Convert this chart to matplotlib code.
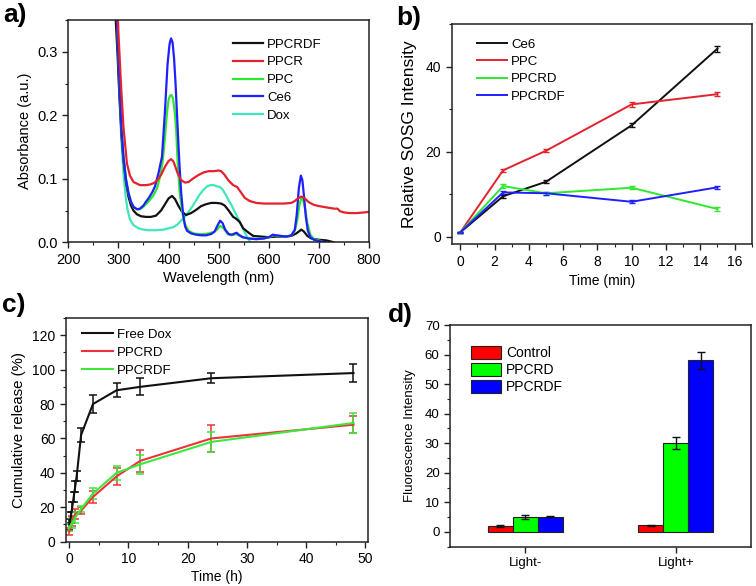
import matplotlib
matplotlib.use("Agg")
import matplotlib.pyplot as plt
from matplotlib.ticker import MultipleLocator
import numpy as np

plt.rcParams['font.family'] = ['Liberation Sans', 'DejaVu Sans']

# ---------------- Panel a: UV-vis spectra ----------------
a_labels = ["PPCRDF", "PPCR", "PPC", "Ce6", "Dox"]
a_colors = ["#111111", "#e3222e", "#2ee82e", "#1f1fff", "#3ee8bc"]

wl_ppcrdf = [290, 294, 298, 302, 306, 310, 315, 320, 325, 330, 337, 345, 355, 365, 375, 385, 393, 400, 407, 413,
             420, 427, 435, 445, 455, 465, 475, 485, 495, 505, 512, 520, 529, 535, 542, 549, 560, 569, 585, 600,
             615, 630, 645, 655, 660, 665, 670, 677, 685, 700, 715, 730]
ab_ppcrdf = [0.45, 0.36, 0.30, 0.23, 0.17, 0.13, 0.095, 0.072, 0.058, 0.050, 0.044, 0.041, 0.040, 0.040, 0.042, 0.050,
             0.060, 0.069, 0.073, 0.068, 0.057, 0.048, 0.043, 0.046, 0.051, 0.057, 0.060, 0.062, 0.062, 0.061, 0.058,
             0.050, 0.040, 0.037, 0.032, 0.022, 0.015, 0.010, 0.009, 0.008, 0.009, 0.009, 0.010, 0.014, 0.017, 0.020,
             0.017, 0.010, 0.006, 0.004, 0.003, 0.000]

wl_ppcr = [292, 296, 300, 305, 310, 317, 323, 330, 343, 355, 363, 370, 377, 385, 393, 400, 405, 410, 418, 425, 433,
           440, 450, 460, 470, 480, 490, 500, 505, 512, 520, 529, 537, 545, 552, 562, 575, 590, 610, 630, 645, 652,
           658, 665, 672, 680, 690, 700, 715, 730, 737, 742, 750, 762, 775, 790, 800]
ab_ppcr = [0.50, 0.42, 0.33, 0.25, 0.182, 0.124, 0.105, 0.095, 0.090, 0.090, 0.091, 0.093, 0.097, 0.106, 0.119, 0.128,
           0.131, 0.127, 0.109, 0.098, 0.094, 0.095, 0.101, 0.106, 0.110, 0.112, 0.112, 0.113, 0.112, 0.106, 0.097,
           0.090, 0.087, 0.078, 0.070, 0.065, 0.062, 0.061, 0.061, 0.061, 0.062, 0.065, 0.069, 0.072, 0.069, 0.063,
           0.059, 0.057, 0.055, 0.053, 0.053, 0.049, 0.047, 0.046, 0.046, 0.047, 0.048]

wl_ppc = [290, 294, 298, 302, 306, 310, 315, 320, 325, 330, 337, 343, 350, 360, 370, 377, 383, 388, 393, 397, 400, 403,
          406, 409, 412, 415, 418, 422, 425, 430, 435, 440, 450, 460, 470, 480, 490, 497, 503, 510, 518, 525, 530,
          535, 540, 548, 560, 575, 590, 600, 610, 620, 635, 645, 652, 657, 661, 665, 668, 672, 677, 683, 690, 700, 710]
ab_ppc = [0.50, 0.42, 0.33, 0.25, 0.18, 0.135, 0.10, 0.078, 0.064, 0.056, 0.052, 0.052, 0.056, 0.064, 0.074, 0.085,
          0.103, 0.125, 0.166, 0.205, 0.224, 0.231, 0.232, 0.226, 0.208, 0.180, 0.130, 0.080, 0.061, 0.035, 0.025,
          0.018, 0.014, 0.013, 0.013, 0.014, 0.016, 0.020, 0.026, 0.022, 0.013, 0.011, 0.012, 0.013, 0.011, 0.008,
          0.006, 0.005, 0.006, 0.008, 0.011, 0.010, 0.009, 0.011, 0.018, 0.035, 0.058, 0.070, 0.068, 0.055, 0.030,
          0.012, 0.005, 0.003, 0.0]

wl_ce6 = [290, 294, 298, 302, 306, 310, 315, 320, 325, 330, 337, 343, 350, 355, 360, 367, 373, 380, 387, 393, 398, 402,
          405, 408, 411, 414, 417, 420, 422, 425, 429, 433, 437, 445, 455, 465, 475, 485, 492, 498, 503, 508, 513,
          520, 527, 532, 536, 540, 548, 560, 575, 590, 600, 608, 615, 625, 635, 645, 652, 656, 660, 664, 667, 670,
          674, 678, 683, 690, 700, 715]
ab_ce6 = [0.50, 0.42, 0.33, 0.25, 0.18, 0.135, 0.10, 0.078, 0.064, 0.056, 0.052, 0.053, 0.058, 0.064, 0.069, 0.078,
          0.088, 0.109, 0.135, 0.208, 0.280, 0.312, 0.321, 0.315, 0.290, 0.250, 0.200, 0.150, 0.120, 0.080, 0.045,
          0.025, 0.018, 0.014, 0.012, 0.011, 0.011, 0.013, 0.017, 0.027, 0.034, 0.030, 0.020, 0.013, 0.012, 0.014,
          0.015, 0.012, 0.008, 0.006, 0.005, 0.006, 0.008, 0.012, 0.011, 0.010, 0.009, 0.011, 0.020, 0.045, 0.085,
          0.105, 0.098, 0.075, 0.040, 0.018, 0.008, 0.004, 0.002, 0.0]

wl_dox = [290, 294, 298, 302, 306, 310, 314, 318, 323, 330, 340, 350, 360, 375, 390, 400, 410, 418, 425, 432, 440, 448,
          455, 462, 470, 477, 483, 490, 497, 503, 508, 514, 520, 526, 532, 540, 547, 553, 558, 563]
ab_dox = [0.50, 0.42, 0.32, 0.23, 0.16, 0.11, 0.075, 0.052, 0.036, 0.027, 0.022, 0.020, 0.019, 0.019, 0.020, 0.022,
          0.024, 0.028, 0.034, 0.040, 0.048, 0.057, 0.066, 0.075, 0.083, 0.088, 0.090, 0.090, 0.088, 0.087, 0.083,
          0.075, 0.066, 0.058, 0.048, 0.036, 0.024, 0.014, 0.007, 0.0]

# ---------------- Panel b: SOSG ----------------
b_labels = ["Ce6", "PPC", "PPCRD", "PPCRDF"]
b_colors = ["#111111", "#e3222e", "#2ee82e", "#1f1fff"]
b_time = [0, 2.5, 5, 10, 15]
b_ce6 = [1.0, 9.5, 12.9, 26.2, 44.2]
b_ppc = [1.0, 15.6, 20.2, 31.1, 33.5]
b_ppcrd = [1.0, 11.9, 10.2, 11.5, 6.5]
b_ppcrdf = [1.0, 10.4, 10.2, 8.2, 11.6]
b_err_ce6 = [0.2, 0.4, 0.4, 0.5, 0.7]
b_err_ppc = [0.2, 0.4, 0.4, 0.6, 0.5]
b_err_ppcrd = [0.2, 0.4, 0.3, 0.4, 0.4]
b_err_ppcrdf = [0.2, 0.3, 0.3, 0.3, 0.4]

# ---------------- Panel c: release ----------------
c_labels = ["Free Dox", "PPCRD", "PPCRDF"]
c_colors = ["#111111", "#f0303a", "#3ce83c"]
c_t_free = [0, 0.25, 0.5, 0.75, 1, 1.25, 2, 4, 8, 12, 24, 48]
c_free = [10, 14, 20, 26, 32, 38, 62, 80, 88, 90, 95, 98]
c_free_err = [3, 3, 3, 3, 3, 3, 4, 5, 4, 5, 3, 5]
c_t = [0, 0.5, 1, 2, 4, 8, 12, 24, 48]
c_ppcrd = [6, 12, 16, 18, 26, 38, 47, 60, 68]
c_ppcrd_err = [2, 3, 3, 2, 3.5, 5, 6.5, 8, 5]
c_ppcrdf = [8, 11, 14, 19, 28, 40, 45, 58, 69]
c_ppcrdf_err = [2, 3, 3, 2, 3, 4, 5.5, 6, 6]

# ---------------- Panel d: fluorescence ----------------
d_groups = ["Light-", "Light+"]
d_labels = ["Control", "PPCRD", "PPCRDF"]
d_colors = ["#ff0000", "#00ff00", "#0000ff"]
d_control = [2.0, 2.2]
d_ppcrd = [5.0, 30.0]
d_ppcrdf = [5.2, 58.0]
d_control_err = [0.2, 0.2]
d_ppcrd_err = [0.6, 2.0]
d_ppcrdf_err = [0.3, 3.0]

W, H = 756, 586
fig = plt.figure(figsize=(W / 100, H / 100), dpi=100)


def add_ax(l, t, r, b):
    return fig.add_axes([l / W, 1 - b / H, (r - l) / W, (b - t) / H])


def style(ax, fs=10):
    for s in ax.spines.values():
        s.set_linewidth(1.1)
        s.set_color("#222222")
    ax.tick_params(which="both", direction="out", labelsize=fs, colors="#222222", labelcolor="black")
    ax.tick_params(which="major", length=4, width=1.0)
    ax.tick_params(which="minor", length=2.5, width=0.8)


# Panel a
axa = add_ax(68.3, 20, 369, 242.3)
series_a = [(wl_ppcrdf, ab_ppcrdf), (wl_ppcr, ab_ppcr), (wl_ppc, ab_ppc), (wl_ce6, ab_ce6), (wl_dox, ab_dox)]
order = [4, 0, 2, 3, 1]
lines = {}
for i in order:
    x, y = series_a[i]
    lines[i], = axa.plot(x, y, color=a_colors[i], lw=1.6, label=a_labels[i])
axa.set_xlim(200, 800)
axa.set_ylim(0, 0.35)
axa.xaxis.set_major_locator(MultipleLocator(100))
axa.xaxis.set_minor_locator(MultipleLocator(50))
axa.yaxis.set_major_locator(MultipleLocator(0.1))
axa.yaxis.set_minor_locator(MultipleLocator(0.05))
axa.yaxis.set_major_formatter(matplotlib.ticker.FormatStrFormatter('%.1f'))
style(axa, 10.5)
axa.set_xlabel("Wavelength (nm)", fontsize=10.5, labelpad=3)
axa.set_ylabel("Absorbance (a.u.)", fontsize=10.5, labelpad=4)
axa.legend([lines[i] for i in range(5)], a_labels, loc="upper left", bbox_to_anchor=(0.547, 0.917),
           frameon=False, fontsize=9.5, handlelength=2.3, handletextpad=0.3, labelspacing=0.42, borderpad=0,
           borderaxespad=0)

# Panel b
axb = add_ax(451.7, 24, 751.7, 244.3)
b_series = [(b_ce6, b_err_ce6), (b_ppc, b_err_ppc), (b_ppcrd, b_err_ppcrd), (b_ppcrdf, b_err_ppcrdf)]
hb = []
for (y, e), c, lab in zip(b_series, b_colors, b_labels):
    axb.errorbar(b_time, y, yerr=e, color=c, lw=1.4, capsize=2.2, elinewidth=1.0, capthick=1.0)
    h, = axb.plot([], [], color=c, lw=1.4)
    hb.append(h)
axb.set_xlim(-0.5, 17)
axb.set_ylim(-1.8, 50)
axb.xaxis.set_major_locator(MultipleLocator(2))
axb.xaxis.set_minor_locator(MultipleLocator(1))
axb.yaxis.set_major_locator(MultipleLocator(20))
axb.yaxis.set_minor_locator(MultipleLocator(10))
style(axb, 10)
axb.set_xlabel("Time (min)", fontsize=10, labelpad=4)
axb.set_ylabel("Relative SOSG Intensity", fontsize=12.5, labelpad=6)
axb.legend(hb, b_labels, loc="upper left", bbox_to_anchor=(0.083, 0.934), frameon=False, fontsize=9.5,
           handlelength=2.3, handletextpad=0.3, labelspacing=0.38, borderpad=0, borderaxespad=0)

# Panel c
axc = add_ax(65.7, 318, 368.3, 541.7)
c_series = [(c_t_free, c_free, c_free_err), (c_t, c_ppcrd, c_ppcrd_err), (c_t, c_ppcrdf, c_ppcrdf_err)]
hc = []
for (t, y, e), c in zip(c_series, c_colors):
    axc.errorbar(t, y, yerr=e, color=c, lw=1.5, capsize=3, elinewidth=1.1, capthick=1.1, clip_on=True)
    h, = axc.plot([], [], color=c, lw=1.5)
    hc.append(h)
axc.set_xlim(-0.6, 50.5)
axc.set_ylim(0, 130)
axc.xaxis.set_major_locator(MultipleLocator(10))
axc.xaxis.set_minor_locator(MultipleLocator(5))
axc.yaxis.set_major_locator(MultipleLocator(20))
axc.yaxis.set_minor_locator(MultipleLocator(10))
style(axc, 10)
axc.set_xlabel("Time (h)", fontsize=10, labelpad=3)
axc.set_ylabel("Cumulative release (%)", fontsize=10.8, labelpad=4)
axc.legend(hc, c_labels, loc="upper left", bbox_to_anchor=(0.053, 0.952), frameon=False, fontsize=9.5,
           handlelength=2.4, handletextpad=0.3, labelspacing=0.42, borderpad=0, borderaxespad=0)

# Panel d
axd = add_ax(450, 325, 751, 546.7)
xg = np.arange(1, len(d_groups) + 1)
bw = 0.167
d_series = [(d_control, d_control_err), (d_ppcrd, d_ppcrd_err), (d_ppcrdf, d_ppcrdf_err)]
hd = []
for k, ((v, e), c, lab) in enumerate(zip(d_series, d_colors, d_labels)):
    bars = axd.bar(xg + (k - 1) * bw, v, width=bw, color=c, edgecolor="#222222", linewidth=0.8,
                   yerr=e, capsize=3, error_kw=dict(ecolor="#111111", elinewidth=1.0, capthick=1.0), label=lab)
    hd.append(bars)
axd.set_xlim(0.5, 2.5)
axd.set_ylim(-5, 70)
axd.set_xticks(xg)
axd.set_xticklabels(d_groups)
axd.yaxis.set_major_locator(MultipleLocator(10))
axd.yaxis.set_minor_locator(MultipleLocator(5))
style(axd, 9.5)
axd.set_ylabel("Fluorescence Intensity", fontsize=9.5, labelpad=6)
axd.legend(hd, d_labels, loc="upper left", bbox_to_anchor=(0.069, 0.905), frameon=False, fontsize=10,
           handlelength=2.2, handleheight=1.05, handletextpad=0.35, labelspacing=0.2, borderpad=0,
           borderaxespad=0)

# Panel letters
for txt, x, y in [("a)", 3, 22), ("b)", 396, 25), ("c)", 2, 311.7), ("d)", 388, 321.7)]:
    fig.text(x / W, 1 - y / H, txt, fontsize=19, fontweight="bold", va="baseline", ha="left")

fig.savefig("out.png", dpi=100)
